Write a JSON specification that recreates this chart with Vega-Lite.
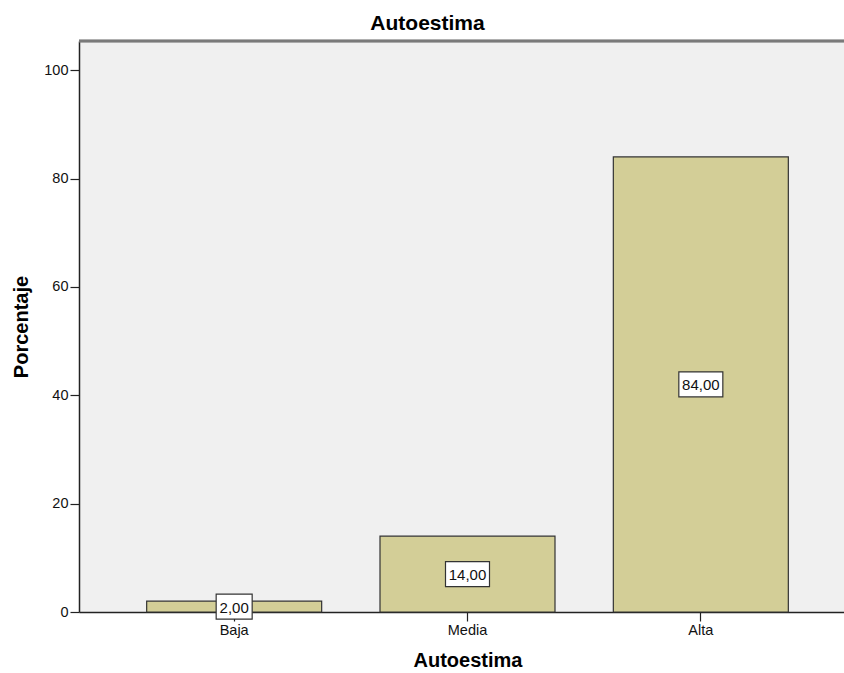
{
  "$schema": "https://vega.github.io/schema/vega-lite/v6.json",
  "autosize": "none",
  "padding": {"left": 79, "top": 41, "right": 0, "bottom": 61},
  "width": 765,
  "height": 571,
  "background": "#ffffff",
  "config": {
    "font": "Liberation Sans",
    "view": {"fill": "#f0f0f0", "stroke": null},
    "axis": {"grid": false, "domainColor": "#222222", "domainWidth": 1.5, "tickColor": "#222222", "tickSize": 9, "tickWidth": 1.2, "labelColor": "#111111", "labelFontSize": 14.5, "labelFont": "Liberation Sans", "titleFont": "Liberation Sans", "titleFontSize": 20, "titleFontWeight": "bold", "titleColor": "#000000"}
  },
  "title": {"text": "Autoestima", "font": "Liberation Sans", "fontSize": 21, "fontWeight": "bold", "color": "#000000", "anchor": "middle", "dx": -34, "offset": 6},
  "data": {"values": [
    {"cat": "Baja", "pct": 2, "label": "2,00"},
    {"cat": "Media", "pct": 14, "label": "14,00"},
    {"cat": "Alta", "pct": 84, "label": "84,00"}
  ]},
  "transform": [{"calculate": "datum.pct / 2", "as": "mid"}],
  "encoding": {
    "x": {"field": "cat", "type": "nominal", "sort": ["Baja", "Media", "Alta"],
      "scale": {"range": [0, 777], "paddingInner": 0.25, "paddingOuter": 0.29},
      "axis": {"title": "Autoestima", "labelAngle": 0, "labelPadding": 2, "titlePadding": 14}}
  },
  "layer": [
    {
      "mark": {"type": "bar", "fill": "#d3ce97", "stroke": "#333333", "strokeWidth": 1.2},
      "encoding": {
        "y": {"field": "pct", "type": "quantitative", "scale": {"domain": [0, 105.4], "nice": false},
          "axis": {"title": "Porcentaje", "values": [0, 20, 40, 60, 80, 100], "labelPadding": 2, "titlePadding": 12}}
      }
    },
    {
      "mark": {"type": "rule", "color": "#7a7a7a", "strokeWidth": 2.5},
      "encoding": {"y": {"datum": 105.4}, "x": null}
    },
    {
      "transform": [{"filter": "datum.pct < 10"}],
      "mark": {"type": "rect", "width": 36, "height": 25, "fill": "#ffffff", "stroke": "#333333", "strokeWidth": 1.2},
      "encoding": {"y": {"field": "mid", "type": "quantitative"}}
    },
    {
      "transform": [{"filter": "datum.pct >= 10"}],
      "mark": {"type": "rect", "width": 44, "height": 25, "fill": "#ffffff", "stroke": "#333333", "strokeWidth": 1.2},
      "encoding": {"y": {"field": "mid", "type": "quantitative"}}
    },
    {
      "mark": {"type": "text", "fontSize": 15, "color": "#111111", "baseline": "middle", "dy": 1},
      "encoding": {"y": {"field": "mid", "type": "quantitative"}, "text": {"field": "label"}}
    }
  ]
}
